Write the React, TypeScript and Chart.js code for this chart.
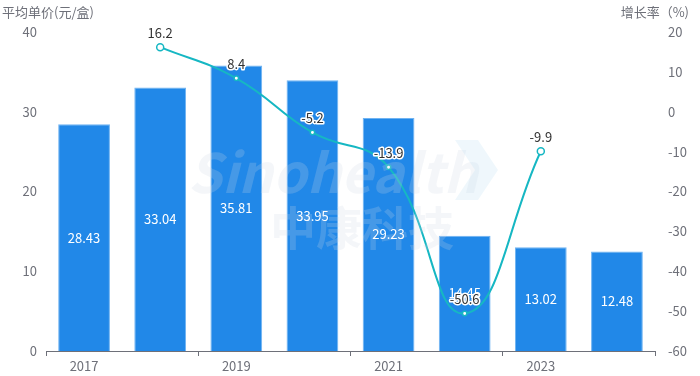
import React, { useEffect, useRef } from 'react';
import { Chart, registerables } from 'chart.js';

Chart.register(...registerables);

const years = ['2017', '2018', '2019', '2020', '2021', '2022', '2023', '2024'];
const avgPrice = [28.43, 33.04, 35.81, 33.95, 29.23, 14.45, 13.02, 12.48];
const growthRate: (number | null)[] = [null, 16.2, 8.4, -5.2, -13.9, -50.6, -9.9, null];
const leftTitle = '平均单价(元/盒)';
const rightTitle = '增长率（%)';

const FONT = '"Noto Sans CJK SC", "Open Sans", sans-serif';
const AXIS_COLOR = '#6E7079';
const BAR_COLOR = '#2188E8';
const LINE_COLOR = '#16B7C3';

const labelPlugin = {
  id: 'customLabels',
  afterDatasetsDraw(chart: any) {
    const ctx = chart.ctx;
    // watermark
    ctx.save();
    ctx.fillStyle = 'rgba(205,214,228,0.22)';
    ctx.textAlign = 'left';
    ctx.textBaseline = 'middle';
    ctx.font = 'italic bold 54px ' + FONT;
    ctx.fillText('Sinohealth', 188, 172);
    ctx.font = 'bold 46px ' + FONT;
    ctx.fillText('中康科技', 270, 228);
    // chevron logo
    ctx.fillStyle = 'rgba(190,225,245,0.25)';
    ctx.beginPath();
    ctx.moveTo(455, 140);
    ctx.lineTo(478, 140);
    ctx.lineTo(498, 170);
    ctx.lineTo(478, 200);
    ctx.lineTo(455, 200);
    ctx.lineTo(475, 170);
    ctx.closePath();
    ctx.fill();
    ctx.restore();

    // bar labels
    const barMeta = chart.getDatasetMeta(0);
    ctx.save();
    ctx.font = '13px ' + FONT;
    ctx.fillStyle = '#ffffff';
    ctx.textAlign = 'center';
    ctx.textBaseline = 'middle';
    barMeta.data.forEach((el: any, i: number) => {
      const v = avgPrice[i];
      ctx.fillText(v.toFixed(2), el.x, (el.y + el.base) / 2);
    });
    ctx.restore();

    // line labels
    const lineMeta = chart.getDatasetMeta(1);
    ctx.save();
    ctx.font = '13px ' + FONT;
    ctx.textAlign = 'center';
    ctx.textBaseline = 'middle';
    ctx.lineJoin = 'round';
    lineMeta.data.forEach((el: any, i: number) => {
      const v = growthRate[i];
      if (v === null || v === undefined) return;
      const t = String(v);
      const y = el.y - 14;
      ctx.strokeStyle = '#ffffff';
      ctx.lineWidth = 3;
      ctx.strokeText(t, el.x, y);
      ctx.fillStyle = '#333333';
      ctx.fillText(t, el.x, y);
    });
    ctx.restore();

    // axis titles
    ctx.save();
    ctx.font = '13px ' + FONT;
    ctx.fillStyle = AXIS_COLOR;
    ctx.textBaseline = 'middle';
    ctx.textAlign = 'left';
    ctx.fillText(leftTitle, 2, 12);
    ctx.textAlign = 'right';
    ctx.fillText(rightTitle, 689, 12);
    ctx.restore();
  },
};

export default function App() {
  const ref = useRef<HTMLCanvasElement | null>(null);
  useEffect(() => {
    if (!ref.current) return;
    const chart = new Chart(ref.current, {
      type: 'bar',
      data: {
        labels: years,
        datasets: [
          {
            type: 'bar',
            label: '平均单价',
            data: avgPrice,
            backgroundColor: BAR_COLOR,
            borderColor: '#6fb3f2',
            borderWidth: { left: 1, right: 1, top: 1, bottom: 0 } as any,
            barPercentage: 0.68,
            categoryPercentage: 1,
            yAxisID: 'y',
            order: 2,
          },
          {
            type: 'line',
            label: '增长率',
            data: growthRate,
            borderColor: LINE_COLOR,
            borderWidth: 2,
            tension: 0.45,
            pointRadius: [0, 3.5, 2.2, 2.2, 2.2, 2.2, 3.5, 0],
            pointBackgroundColor: '#ffffff',
            pointBorderColor: LINE_COLOR,
            pointBorderWidth: 1.5,
            yAxisID: 'y1',
            order: 1,
            spanGaps: false,
          } as any,
        ],
      },
      options: {
        animation: false,
        responsive: true,
        maintainAspectRatio: false,
        layout: { padding: { top: 32, left: 0, right: 0, bottom: 0 } },
        plugins: {
          legend: { display: false },
          tooltip: { enabled: false },
        },
        scales: {
          x: {
            type: 'category',
            offset: true,
            grid: {
              offset: true,
              drawOnChartArea: false,
              drawTicks: true,
              tickLength: 5,
              color: (c: any) =>
                c.type !== 'tick' || c.index % 2 === 0 ? AXIS_COLOR : 'rgba(0,0,0,0)',
            },
            border: { color: AXIS_COLOR, width: 1 },
            ticks: {
              autoSkip: false,
              maxRotation: 0,
              color: AXIS_COLOR,
              font: { size: 13, family: FONT },
              padding: 2,
              callback: (_v: any, i: number) => (i % 2 === 0 ? years[i] : ''),
            },
            afterFit: (s: any) => {
              s.height = 25;
            },
          },
          y: {
            position: 'left',
            min: 0,
            max: 40,
            grid: { display: false, drawTicks: false },
            border: { display: false },
            ticks: {
              stepSize: 10,
              color: AXIS_COLOR,
              font: { size: 13, family: FONT },
              padding: 9,
            },
            afterFit: (s: any) => {
              s.width = 46;
            },
          },
          y1: {
            position: 'right',
            min: -60,
            max: 20,
            grid: { display: false, drawTicks: false },
            border: { display: false },
            ticks: {
              stepSize: 10,
              color: AXIS_COLOR,
              font: { size: 13, family: FONT },
              padding: 13,
            },
            afterFit: (s: any) => {
              s.width = 45;
            },
          },
        },
      },
      plugins: [labelPlugin],
    });
    return () => chart.destroy();
  }, []);
  return (
    <div style={{ position: 'fixed', left: 0, top: 0, width: 700, height: 376, background: '#fff' }}>
      <canvas ref={ref} />
    </div>
  );
}
